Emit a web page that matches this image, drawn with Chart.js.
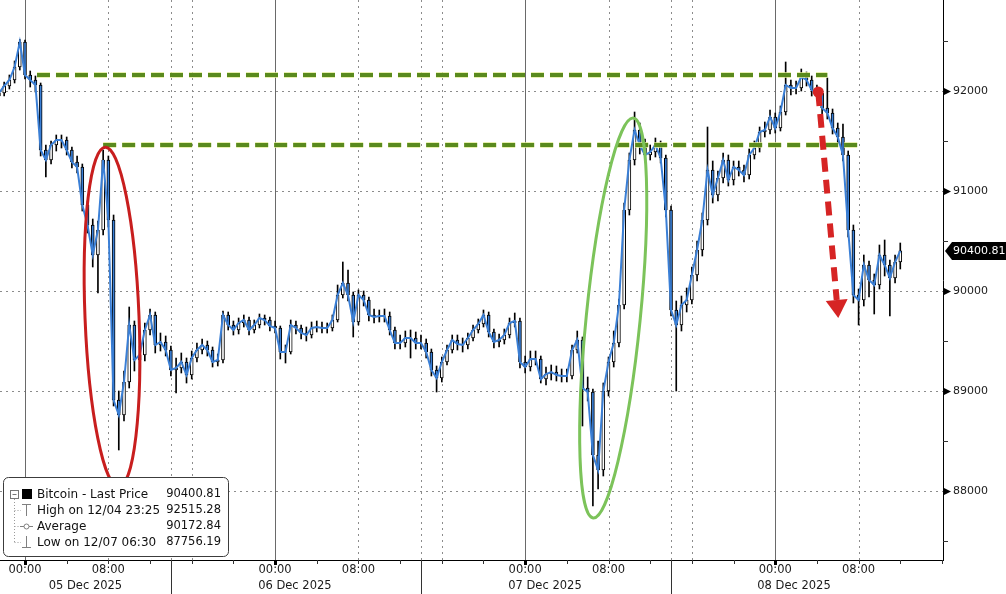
<!DOCTYPE html>
<html>
<head>
<meta charset="utf-8">
<script src="https://cdn.jsdelivr.net/npm/chart.js@4.4.1/dist/chart.umd.min.js"></script>
<style>
  html, body { margin: 0; padding: 0; background: #fff; }
  #wrap { width: 1006px; height: 594px; position: relative; }
</style>
</head>
<body>
<div id="wrap"><canvas id="chart"></canvas></div>
<script>
// 30 minute bars, hours counted from 05 Dec 2025 00:00
const startHour = -2.5;
const stepHours = 0.5;
const firstOpen = 91950;

const closes = [
  91980, 92050, 92110, 92240, 92490,
  92160, 92110, 92060, 91410, 91310, 91460, 91510, 91510, 91410, 91290, 91240, 90860, 90660, 90360, 90610, 91310,
  90710, 88910, 88760, 89090, 89660, 89310, 89360, 89610, 89760, 89460, 89490, 89410, 89210, 89230, 89290, 89160,
  89330, 89410, 89460, 89410, 89290, 89310, 89760, 89660, 89610, 89680, 89710, 89610, 89660, 89730, 89710, 89650,
  89630, 89390, 89390, 89660, 89630, 89580, 89560, 89630, 89640, 89630, 89630, 89710, 89960, 90080, 89960, 89690,
  89960, 89910, 89760, 89740, 89750, 89750, 89610, 89480, 89480, 89530, 89530, 89480, 89480, 89390, 89210, 89130,
  89290, 89410, 89510, 89470, 89460, 89530, 89610, 89670, 89760, 89590, 89490, 89510, 89560, 89680, 89700, 89290,
  89240, 89320, 89320, 89120, 89170, 89190, 89160, 89150, 89150, 89410, 89510, 89030, 88990, 88360, 88210, 89000,
  89290, 89480, 89860, 90810, 91310, 91610, 91460, 91360, 91390, 91460, 91330, 90810, 89810, 89660, 89860, 89910,
  90160, 90410, 90710, 91210, 90960, 91130, 91310, 91110, 91240, 91210, 91160, 91360, 91430, 91590, 91610, 91740,
  91630, 91790, 92060, 92030, 92030, 92140, 92110, 92010, 91980, 91830, 91780, 91630, 91540, 91360, 90610, 89960,
  89910, 90260, 90110, 90060, 90360, 90260, 90130, 90290, 90400.81
];

const highs = [
  92030, 92090, 92160, 92300, 92515,
  92510, 92200, 92150, 92080, 91460, 91500, 91560, 91560, 91540, 91440, 91350, 91270, 90900, 90720, 90700, 91410,
  91350, 90760, 89000, 89200, 89840, 89700, 89450, 89680, 89820, 89790, 89580, 89550, 89450, 89330, 89380, 89330,
  89400, 89480, 89520, 89500, 89440, 89370, 89800, 89790, 89700, 89730, 89760, 89740, 89710, 89770, 89760, 89740,
  89700, 89650, 89460, 89710, 89700, 89660, 89640, 89690, 89700, 89690, 89680, 89760, 90060, 90290, 90210, 89990,
  90010, 90000, 89940, 89820, 89810, 89820, 89790, 89640, 89560, 89600, 89610, 89590, 89560, 89520, 89420, 89250,
  89340, 89460, 89560, 89560, 89530, 89580, 89660, 89720, 89810, 89790, 89620, 89570, 89620, 89730, 89780, 89730,
  89350, 89400, 89400, 89350, 89240, 89260, 89250, 89220, 89220, 89460, 89600, 89540, 89140, 89020, 88500, 89080,
  89340, 89600, 89920, 90880, 91380, 91790, 91680, 91520, 91460, 91530, 91500, 91360, 90850, 89900, 89950, 90030,
  90240, 90500, 90780, 91640, 91300, 91200, 91380, 91360, 91300, 91300, 91260, 91420, 91500, 91640, 91690, 91810,
  91780, 91850, 92290, 92110, 92100, 92220, 92190, 92150, 92060, 92010, 92130, 91820, 91680, 91670, 91400, 90660,
  90020, 90360, 90300, 90170, 90460, 90510, 90310, 90360, 90480
];

const lows = [
  91920, 91950, 92020, 92080, 92210,
  92120, 92040, 91990, 91350, 91140, 91270, 91400, 91430, 91360, 91230, 91180, 90800, 90580, 90240, 89980, 90560,
  90640, 88850, 88410, 88700, 89030, 89200, 89150, 89300, 89560, 89380, 89400, 89350, 89150, 88980, 89180, 89080,
  89120, 89290, 89370, 89350, 89240, 89250, 89280, 89610, 89560, 89570, 89640, 89560, 89580, 89630, 89660, 89600,
  89580, 89320, 89280, 89370, 89570, 89520, 89500, 89530, 89590, 89580, 89580, 89600, 89690, 89930, 89900, 89540,
  89660, 89850, 89700, 89680, 89690, 89690, 89560, 89420, 89420, 89440, 89330, 89420, 89420, 89330, 89150, 88990,
  89090, 89260, 89380, 89410, 89390, 89420, 89500, 89580, 89640, 89540, 89430, 89440, 89470, 89530, 89640, 89230,
  89180, 89200, 89260, 89080, 89060, 89110, 89100, 89090, 89090, 89120, 89380, 88650, 88900, 87850, 88020, 88150,
  88950, 89240, 89440, 89820, 90760, 91260, 91370, 91290, 91310, 91340, 91280, 90740, 89750, 89000, 89600, 89790,
  89870, 90100, 90350, 90660, 90880, 90900, 91080, 91050, 91060, 91150, 91090, 91120, 91320, 91390, 91540, 91570,
  91580, 91600, 91760, 91960, 91970, 92000, 92050, 91950, 91910, 91770, 91720, 91570, 91480, 91300, 90540, 89880,
  89660, 89850, 89940, 89770, 90020, 90150, 89750, 90080, 90220
];

const dayLabels = ['05 Dec 2025', '06 Dec 2025', '07 Dec 2025', '08 Dec 2025'];
const dayStarts = [0, 24, 48, 72];
const dayLabelCenters = [5.8, 25.9, 49.9, 73.8];
const yTicks = [87500, 88000, 88500, 89000, 89500, 90000, 90500, 91000, 91500, 92000, 92500];

const legendLabels = ['Bitcoin - Last Price', 'High on 12/04 23:25', 'Average', 'Low on 12/07 06:30'];
const legendValues = ['90400.81', '92515.28', '90172.84', '87756.19'];

const FONT = '"DejaVu Sans", sans-serif';
const BLUE = '#3a7fd6';
const hours = closes.map((_, i) => startHour + i * stepHours);
const opens = closes.map((c, i) => i === 0 ? firstOpen : closes[i - 1]);

function strokeLine(ctx, x1, y1, x2, y2) {
  ctx.beginPath();
  ctx.moveTo(x1, y1);
  ctx.lineTo(x2, y2);
  ctx.stroke();
}

const decor = {
  id: 'decor',
  beforeDatasetsDraw(chart) {
    const { ctx, chartArea: a, scales: { x, y } } = chart;
    ctx.save();
    ctx.lineWidth = 1;
    ctx.strokeStyle = '#8c8c8c';
    ctx.setLineDash([2, 4]);
    ctx.beginPath();
    yTicks.forEach(v => {
      if (v % 1000) return;
      const py = Math.round(y.getPixelForValue(v)) + 0.5;
      ctx.moveTo(a.left, py);
      ctx.lineTo(a.right, py);
    });
    dayStarts.forEach((h0, d) => {
      [8, 14, 16].forEach(hh => {
        if (hh === 14 && d === dayStarts.length - 1) return;
        const px = Math.round(x.getPixelForValue(h0 + hh)) + 0.5;
        if (px >= a.right - 2) return;
        ctx.moveTo(px, a.top);
        ctx.lineTo(px, a.bottom);
      });
    });
    ctx.stroke();
    ctx.setLineDash([]);
    ctx.strokeStyle = '#6a6a6a';
    dayStarts.forEach(h0 => {
      const px = Math.round(x.getPixelForValue(h0)) + 0.5;
      strokeLine(ctx, px, a.top, px, a.bottom);
    });
    ctx.restore();
  },
  afterDatasetsDraw(chart) {
    const { ctx, scales: { x, y } } = chart;
    const P = (h, v) => [x.getPixelForValue(h), y.getPixelForValue(v)];
    ctx.save();

    // green resistance levels
    [[92160, 1.15, 77.0], [91460, 7.5, 80.4]].forEach(([v, h1, h2]) => {
      const [x1, py] = P(h1, v);
      const [x2] = P(h2, v);
      ctx.setLineDash([13, 6]);
      ctx.strokeStyle = 'rgba(225,236,150,0.75)';
      ctx.lineWidth = 6;
      strokeLine(ctx, x1, py, x2, py);
      ctx.strokeStyle = '#5a8a1d';
      ctx.lineWidth = 4;
      strokeLine(ctx, x1, py, x2, py);
    });
    ctx.setLineDash([]);

    // red ellipse
    let [cx, cy] = P(8.35, 89740);
    ctx.strokeStyle = '#c81e1e';
    ctx.lineWidth = 3;
    ctx.beginPath();
    ctx.ellipse(cx, cy, 27, 170, -0.04, 0, Math.PI * 2);
    ctx.stroke();

    // green ellipse
    [cx, cy] = P(56.45, 89730);
    ctx.strokeStyle = '#7cc35a';
    ctx.beginPath();
    ctx.ellipse(cx, cy, 27, 201, 0.1, 0, Math.PI * 2);
    ctx.stroke();

    // red dashed arrow
    const [sx, sy] = P(76.13, 91990);
    const [tx, ty] = P(78.05, 89730);
    const len = Math.hypot(tx - sx, ty - sy);
    const ux = (tx - sx) / len, uy = (ty - sy) / len;
    const bx = tx - ux * 18, by = ty - uy * 18;
    ctx.strokeStyle = '#d62424';
    ctx.fillStyle = '#d62424';
    ctx.lineWidth = 6;
    ctx.setLineDash([14, 8]);
    strokeLine(ctx, sx, sy, bx, by);
    ctx.setLineDash([]);
    ctx.beginPath();
    ctx.moveTo(tx, ty);
    ctx.lineTo(bx - uy * 11, by + ux * 11);
    ctx.lineTo(bx + uy * 11, by - ux * 11);
    ctx.closePath();
    ctx.fill();
    ctx.beginPath();
    ctx.arc(sx, sy, 5.5, 0, Math.PI * 2);
    ctx.fill();
    ctx.restore();
  },
  afterDraw(chart) {
    const { ctx, chartArea: a, scales: { x, y } } = chart;
    ctx.save();

    // x ticks
    ctx.strokeStyle = '#333';
    ctx.lineWidth = 1;
    for (let h = 0; h <= 88; h += 4) {
      const px = Math.round(x.getPixelForValue(h)) + 0.5;
      if (px > a.right) break;
      if (h % 24 === 0) {
        ctx.fillStyle = '#000';
        ctx.fillRect(px - 1.5, a.bottom, 3, 5);
      } else {
        strokeLine(ctx, px, a.bottom, px, a.bottom + 4);
      }
    }
    // day separators below axis
    dayStarts.slice(0, -1).forEach(h0 => {
      const px = Math.round(x.getPixelForValue(h0 + 14)) + 0.5;
      strokeLine(ctx, px, a.bottom, px, chart.height);
    });
    // day labels
    ctx.fillStyle = '#1a1a1a';
    ctx.font = '11.5px ' + FONT;
    ctx.textAlign = 'center';
    ctx.textBaseline = 'middle';
    dayLabels.forEach((t, i) => ctx.fillText(t, x.getPixelForValue(dayLabelCenters[i]), 586));

    // y tick markers
    yTicks.forEach(v => {
      const py = Math.round(y.getPixelForValue(v)) + 0.5;
      if (v % 1000 === 0) {
        ctx.fillStyle = '#000';
        ctx.beginPath();
        ctx.moveTo(a.right + 1, py - 3.5);
        ctx.lineTo(a.right + 8, py);
        ctx.lineTo(a.right + 1, py + 3.5);
        ctx.closePath();
        ctx.fill();
      } else {
        strokeLine(ctx, a.right, py, a.right + 5, py);
      }
    });

    // last price tag
    const last = closes[closes.length - 1];
    const ly = y.getPixelForValue(last);
    ctx.fillStyle = '#000';
    ctx.beginPath();
    ctx.moveTo(a.right + 2, ly);
    ctx.lineTo(a.right + 9, ly - 9);
    ctx.lineTo(chart.width, ly - 9);
    ctx.lineTo(chart.width, ly + 9);
    ctx.lineTo(a.right + 9, ly + 9);
    ctx.closePath();
    ctx.fill();
    ctx.fillStyle = '#fff';
    ctx.font = '11px ' + FONT;
    ctx.textAlign = 'left';
    ctx.fillText(last.toFixed(2), a.right + 10, ly + 0.5);

    // legend box
    ctx.fillStyle = '#fff';
    ctx.strokeStyle = '#3c3c3c';
    ctx.beginPath();
    ctx.roundRect(3.5, 477.5, 225, 79, 5);
    ctx.fill();
    ctx.stroke();

    const rows = [494, 510, 526, 542];
    ctx.strokeStyle = '#9a9a9a';
    ctx.setLineDash([1, 2]);
    strokeLine(ctx, 14.5, 499, 14.5, rows[3] + 0.5);
    rows.slice(1).forEach(r => strokeLine(ctx, 14.5, r + 0.5, 21, r + 0.5));
    ctx.setLineDash([]);
    ctx.strokeStyle = '#777';
    ctx.strokeRect(10.5, 490.5, 8, 8);
    strokeLine(ctx, 12.5, 494.5, 16.5, 494.5);
    ctx.fillStyle = '#000';
    ctx.fillRect(22, 489, 10, 10);
    ctx.strokeStyle = '#808080';
    strokeLine(ctx, 22, 504.5, 31, 504.5);
    strokeLine(ctx, 26.5, 504.5, 26.5, 516);
    strokeLine(ctx, 20, 526.5, 33, 526.5);
    ctx.fillStyle = '#fff';
    ctx.beginPath();
    ctx.arc(26.5, 526.5, 2.5, 0, Math.PI * 2);
    ctx.fill();
    ctx.stroke();
    strokeLine(ctx, 26.5, 536, 26.5, 547.5);
    strokeLine(ctx, 22, 547.5, 31, 547.5);

    ctx.fillStyle = '#111';
    ctx.textBaseline = 'middle';
    legendLabels.forEach((t, i) => {
      ctx.font = '12px ' + FONT;
      ctx.textAlign = 'left';
      ctx.fillText(t, 37, rows[i] + 0.5);
      ctx.font = '11.5px ' + FONT;
      ctx.textAlign = 'right';
      ctx.fillText(legendValues[i], 221, rows[i] + 0.5);
    });
    ctx.restore();
  }
};

new Chart(document.getElementById('chart'), {
  type: 'bar',
  data: {
    datasets: [
      {
        type: 'line',
        data: hours.map((h, i) => ({ x: h, y: closes[i] })),
        borderColor: BLUE,
        borderWidth: 2,
        pointRadius: 0,
        tension: 0,
        order: 0
      },
      {
        data: hours.map((h, i) => ({ x: h, y: [opens[i], closes[i]] })),
        backgroundColor: closes.map((c, i) => c >= opens[i] ? '#ffffff' : BLUE),
        borderColor: '#000',
        borderWidth: 1,
        borderSkipped: false,
        barThickness: 3,
        grouped: false,
        order: 1
      },
      {
        data: hours.map((h, i) => ({ x: h, y: [lows[i], highs[i]] })),
        backgroundColor: '#000',
        borderWidth: 0,
        barThickness: 1,
        grouped: false,
        order: 2
      }
    ]
  },
  options: {
    responsive: true,
    maintainAspectRatio: false,
    animation: false,
    layout: { padding: 0 },
    plugins: { legend: { display: false }, tooltip: { enabled: false } },
    scales: {
      x: {
        type: 'linear',
        min: -2.4,
        max: 88.1,
        offset: false,
        grid: { display: false, drawTicks: false },
        border: { display: true, color: '#000', width: 1 },
        afterBuildTicks: scale => {
          scale.ticks = [];
          for (let h = 0; h <= 88; h += 4) scale.ticks.push({ value: h });
        },
        afterFit: scale => {
          scale.height = 34;
          scale.paddingLeft = 0;
          scale.paddingRight = 0;
        },
        ticks: {
          autoSkip: false,
          maxRotation: 0,
          padding: 3,
          color: '#1a1a1a',
          font: { family: 'DejaVu Sans', size: 11.5 },
          callback: v => v % 24 === 0 ? '00:00' : (v % 24 === 8 ? '08:00' : '')
        }
      },
      y: {
        position: 'right',
        min: 87310,
        max: 92910,
        grid: { display: false, drawTicks: false },
        border: { display: true, color: '#000', width: 1 },
        afterBuildTicks: scale => { scale.ticks = yTicks.map(v => ({ value: v })); },
        afterFit: scale => {
          scale.width = 63;
          scale.paddingTop = 0;
          scale.paddingBottom = 0;
        },
        ticks: {
          autoSkip: false,
          padding: 10,
          color: '#1a1a1a',
          font: { family: 'DejaVu Sans', size: 11 },
          callback: v => v % 1000 === 0 ? String(v) : ''
        }
      }
    }
  },
  plugins: [decor]
});
</script>
</body>
</html>
